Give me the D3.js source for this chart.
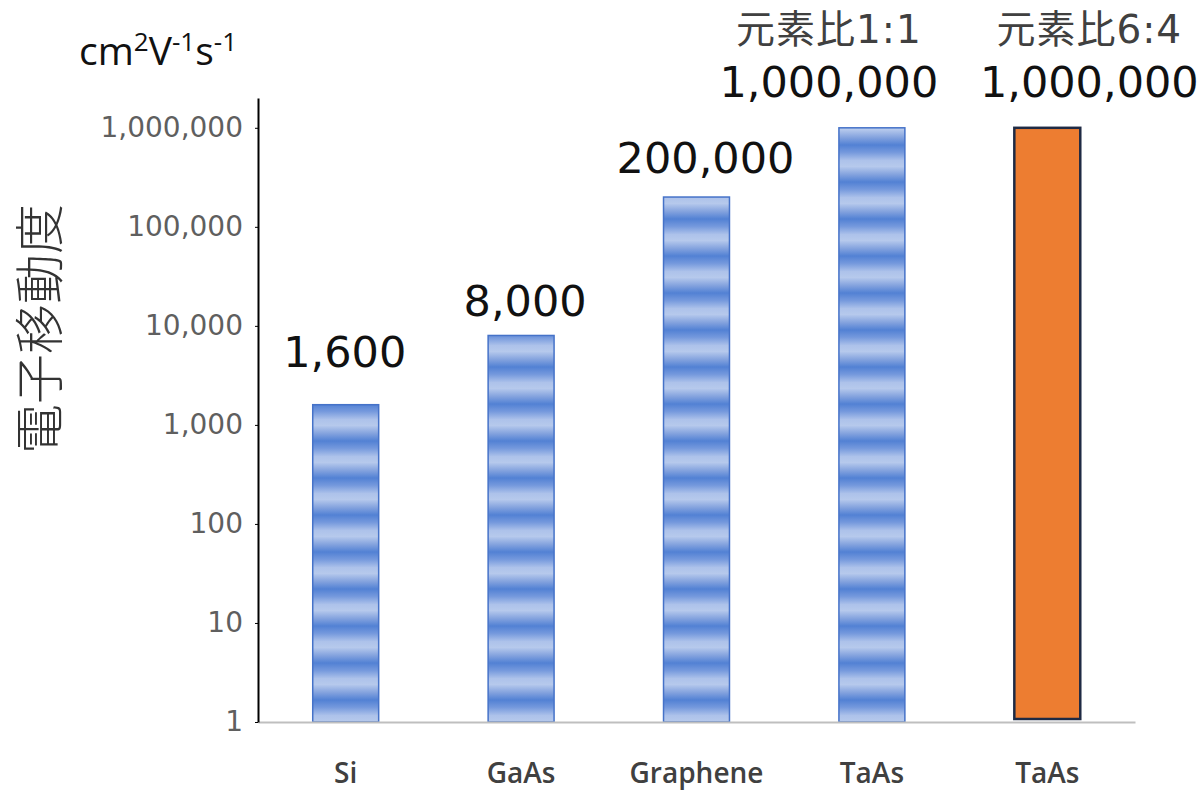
<!DOCTYPE html>
<html>
<head>
<meta charset="utf-8">
<script src="https://cdn.jsdelivr.net/npm/d3@7"></script>
<style>
  body { margin: 0; background: #fff; }
  svg { display: block; }
</style>
</head>
<body>
<div id="wrapper"></div>
<script>
// data
const categories = ["Si", "GaAs", "Graphene", "TaAs", "TaAs"]
const mobility = [1600, 8000, 200000, 1000000, 1000000]
const notes = ["", "", "", "元素比1:1", "元素比6:4"]
const highlighted = [false, false, false, false, true]
const yTicks = [1, 10, 100, 1000, 10000, 100000, 1000000]

// label nudges (px), the source places them by hand
const labelDx = [-1, 4, 9, -43, 42]
const labelDy = [-38, -19, -24, -31, -31]

// 1. dimensions
const dimensions = {
  width: 1200,
  height: 790,
  margin: { top: 98, right: 65, bottom: 68, left: 258 },
}
dimensions.boundedWidth = dimensions.width - dimensions.margin.left - dimensions.margin.right
dimensions.boundedHeight = dimensions.height - dimensions.margin.top - dimensions.margin.bottom

// 2. canvas
const wrapper = d3.select("#wrapper")
  .append("svg")
  .attr("width", dimensions.width)
  .attr("height", dimensions.height)

const defs = wrapper.append("defs")
const grad = defs.append("linearGradient")
  .attr("id", "stripeGrad")
  .attr("x1", 0).attr("y1", 0).attr("x2", 0).attr("y2", 1)
grad.selectAll("stop")
  .data([[0, "#5281d4"], [0.2, "#7599dd"], [0.42, "#adc2ea"], [0.58, "#b6c9ec"], [0.8, "#83a2de"], [1, "#5281d4"]])
  .join("stop")
  .attr("offset", d => d[0])
  .attr("stop-color", d => d[1])

const pattern = defs.append("pattern")
  .attr("id", "stripes")
  .attr("patternUnits", "userSpaceOnUse")
  .attr("width", 10)
  .attr("height", 37)
  .attr("y", 10)
pattern.append("rect")
  .attr("width", 10)
  .attr("height", 37)
  .attr("fill", "url(#stripeGrad)")

const bounds = wrapper.append("g")
  .attr("transform", `translate(${dimensions.margin.left},${dimensions.margin.top})`)

// 3. scales
const xScale = d3.scaleBand()
  .domain(d3.range(categories.length))
  .range([0, dimensions.boundedWidth])
  .paddingInner(0.624)
  .paddingOuter(0.312)

const yScale = d3.scaleLog()
  .domain([1, 2000000])
  .range([dimensions.boundedHeight, 0])

// 4. bars
const idx = d3.range(categories.length)

bounds.selectAll(".bar")
  .data(idx)
  .join("rect")
  .attr("class", "bar")
  .attr("x", i => xScale(i))
  .attr("width", xScale.bandwidth())
  .attr("y", i => yScale(mobility[i]))
  .attr("height", i => yScale(1) - yScale(mobility[i]) - (highlighted[i] ? 3 : 0))
  .attr("fill", i => highlighted[i] ? "#ed7d31" : "url(#stripes)")
  .attr("stroke", i => highlighted[i] ? "#1f2a44" : "#4572c8")
  .attr("stroke-width", i => highlighted[i] ? 2.5 : 1.5)

// 5. axes
const xAxis = bounds.append("g")
  .attr("transform", `translate(0,${dimensions.boundedHeight})`)
  .call(d3.axisBottom(xScale).tickSize(0).tickPadding(41).tickFormat(i => categories[i]))
xAxis.select(".domain").attr("stroke", "#bfbfbf").attr("stroke-width", 2)
xAxis.selectAll("text")
  .attr("font-family", "'Open Sans'")
  .attr("font-weight", 600)
  .attr("font-size", 28)
  .attr("fill", "#404040")

const yAxis = bounds.append("g")
  .call(d3.axisLeft(yScale).tickValues(yTicks).tickFormat(d3.format(",")).tickSizeInner(3).tickSizeOuter(0).tickPadding(12))
yAxis.select(".domain").attr("stroke", "#000").attr("stroke-width", 2)
yAxis.selectAll(".tick line").attr("stroke", "#000")
yAxis.selectAll("text")
  .attr("font-family", "DejaVu Sans")
  .attr("font-size", 28)
  .attr("fill", "#5f5f5f")

// 6. value labels
bounds.selectAll(".value")
  .data(idx)
  .join("text")
  .attr("class", "value")
  .attr("x", i => xScale(i) + xScale.bandwidth() / 2 + labelDx[i])
  .attr("y", i => yScale(mobility[i]) + labelDy[i])
  .attr("text-anchor", "middle")
  .attr("font-family", "DejaVu Sans")
  .attr("font-size", 43)
  .attr("fill", "#111")
  .text(i => d3.format(",")(mobility[i]))

bounds.selectAll(".note")
  .data(idx.filter(i => notes[i]))
  .join("text")
  .attr("class", "note")
  .attr("x", i => xScale(i) + xScale.bandwidth() / 2 + labelDx[i])
  .attr("y", i => yScale(mobility[i]) + labelDy[i] - 54)
  .attr("text-anchor", "middle")
  .attr("font-family", "'DejaVu Sans', 'Noto Sans CJK JP'")
  .attr("font-size", 39)
  .attr("letter-spacing", 1)
  .attr("fill", "#404040")
  .text(i => notes[i])

// 7. axis titles
wrapper.append("text")
  .attr("transform", "translate(36,329) rotate(-90)")
  .attr("text-anchor", "middle")
  .attr("dominant-baseline", "central")
  .attr("font-family", "'Noto Sans CJK JP'")
  .attr("font-weight", 300)
  .attr("font-size", 50)
  .attr("fill", "#333")
  .text("電子移動度")

const unit = wrapper.append("text")
  .attr("x", 79)
  .attr("y", 65)
  .attr("font-family", "'Open Sans'")
  .attr("font-size", 39)
  .attr("fill", "#111")
unit.append("tspan").text("cm")
unit.append("tspan").attr("font-size", 26).attr("dy", -14).text("2")
unit.append("tspan").attr("dy", 14).text("V")
unit.append("tspan").attr("font-size", 26).attr("dy", -14).text("-1")
unit.append("tspan").attr("dy", 14).text("s")
unit.append("tspan").attr("font-size", 26).attr("dy", -14).text("-1")
</script>
</body>
</html>
